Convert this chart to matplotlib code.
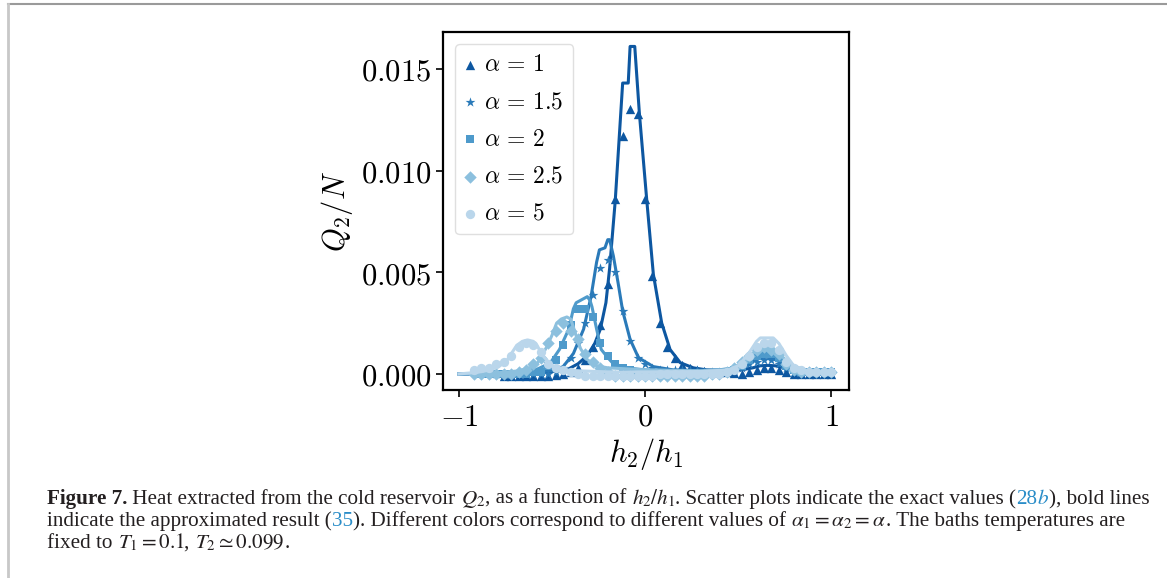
import numpy as np
import matplotlib.pyplot as plt
import matplotlib.transforms as mtransforms
from matplotlib.lines import Line2D

plt.rcParams['mathtext.fontset'] = 'cm'
plt.rcParams['font.family'] = 'DejaVu Serif'

labels = [r'$\alpha \,=\, 1$', r'$\alpha \,=\, 1.5$', r'$\alpha \,=\, 2$', r'$\alpha \,=\, 2.5$',
          r'$\alpha \,=\, 5$']
colors = ['#0d57a1', '#2a7ab9', '#4e9acb', '#8cc0de', '#bad6eb']
markers = ['^', '*', 's', 'D', 'o']

# approximated result (bold lines)
line_x = [
    [-1.0, -0.6, -0.42, -0.36, -0.31, -0.27, -0.24, -0.21, -0.19, -0.16, -0.14, -0.12, -0.09, -0.08,
     -0.055, -0.03, 0.01, 0.045, 0.09, 0.135, 0.19, 0.26, 0.33, 0.45, 0.52, 0.58, 0.62, 0.66, 0.7,
     0.75, 0.82, 0.9, 1.0],
    [-1.0, -0.7, -0.5, -0.44, -0.385, -0.33, -0.29, -0.26, -0.245, -0.215, -0.2, -0.19, -0.17, -0.145,
     -0.12, -0.08, -0.035, 0.045, 0.15, 0.3, 0.45, 0.52, 0.58, 0.62, 0.65, 0.68, 0.72, 0.78, 0.85, 1.0],
    [-1.0, -0.75, -0.6, -0.51, -0.46, -0.41, -0.385, -0.37, -0.35, -0.33, -0.31, -0.295, -0.285, -0.26,
     -0.235, -0.2, -0.17, -0.1, 0.0, 0.2, 0.4, 0.48, 0.55, 0.6, 0.64, 0.68, 0.72, 0.78, 0.85, 1.0],
    [-1.0, -0.8, -0.68, -0.62, -0.58, -0.53, -0.5, -0.475, -0.45, -0.42, -0.4, -0.385, -0.35, -0.31,
     -0.26, -0.2, 0.0, 0.3, 0.45, 0.52, 0.58, 0.62, 0.65, 0.68, 0.72, 0.78, 0.85, 1.0],
    [-1.0, -0.9, -0.83, -0.78, -0.74, -0.69, -0.66, -0.63, -0.6, -0.58, -0.55, -0.52, -0.49, -0.44,
     -0.35, -0.2, 0.0, 0.3, 0.45, 0.5, 0.55, 0.6, 0.62, 0.69, 0.72, 0.76, 0.8, 0.85, 0.9, 1.0],
]
line_y = [
    [0.0, 0.00002, 0.0002, 0.0005, 0.0009, 0.0015, 0.0022, 0.0035, 0.0052, 0.0085, 0.0114, 0.0143,
     0.0143, 0.0161, 0.0161, 0.0128, 0.0085, 0.0049, 0.0025, 0.0012, 0.00055, 0.0003, 0.0002, 0.00015,
     0.0002, 0.0003, 0.0004, 0.00042, 0.0004, 0.0003, 0.00015, 0.00008, 0.00005],
    [0.0, 0.00003, 0.00015, 0.00036, 0.001, 0.0022, 0.0038, 0.0055, 0.0061, 0.0062, 0.0066, 0.0066,
     0.0058, 0.0045, 0.0031, 0.0017, 0.0008, 0.00036, 0.0002, 0.00015, 0.0002, 0.0003, 0.0006, 0.0008,
     0.00082, 0.0008, 0.0006, 0.0003, 0.00015, 0.0001],
    [0.0, 0.00005, 0.00015, 0.00053, 0.0012, 0.0022, 0.0032, 0.0035, 0.0036, 0.0037, 0.0038, 0.0036,
     0.0033, 0.0022, 0.0012, 0.0008, 0.0005, 0.0003, 0.0002, 0.00015, 0.0002, 0.0003, 0.0007, 0.001,
     0.0011, 0.0011, 0.0008, 0.0004, 0.0002, 0.0001],
    [0.0, 0.00005, 0.00015, 0.0003, 0.0005, 0.0013, 0.0019, 0.0025, 0.0027, 0.0028, 0.0027, 0.0023,
     0.0013, 0.0007, 0.0004, 0.0003, 0.0002, 0.00015, 0.0002, 0.0005, 0.001, 0.0013, 0.00135, 0.0013,
     0.001, 0.0005, 0.0002, 0.0001],
    [0.0, 0.00008, 0.0002, 0.0004, 0.0007, 0.0014, 0.0016, 0.00167, 0.0016, 0.0014, 0.0009, 0.0006,
     0.00036, 0.0002, 0.00015, 0.0001, 0.0001, 0.00012, 0.0002, 0.0004, 0.0009, 0.0016, 0.00177,
     0.00177, 0.0015, 0.0009, 0.0004, 0.0002, 0.0001, 0.0001],
]

# exact values (scatter)
grid_x = [-0.92, -0.88, -0.84, -0.80, -0.76, -0.72, -0.68, -0.64, -0.60, -0.56, -0.52, -0.48,
          -0.44, -0.40, -0.36, -0.32, -0.28, -0.24, -0.20, -0.16, -0.12, -0.08, -0.04, 0.00,
          0.04, 0.08, 0.12, 0.16, 0.20, 0.24, 0.28, 0.32, 0.36, 0.40, 0.44, 0.48, 0.52, 0.56,
          0.60, 0.64, 0.68, 0.72, 0.76, 0.80, 0.84, 0.88, 0.92, 0.96, 1.00]
start = [4, 3, 1, 0, 0]
sc_y = [
    [-0.0001, -0.0001, -0.0001, -0.0001, -0.0001,
     -0.0001, -0.0001, -0.00005, 0.0, 0.0001,
     0.0003, 0.0007, 0.0013, 0.0024, 0.0044,
     0.0086, 0.0117, 0.0130, 0.0128, 0.0086,
     0.0048, 0.0025, 0.00134, 0.00077, 0.00044,
     0.00028, 0.0002, 0.00015, 0.0001, 0.0001,
     0.0001, 0.00005, 0.0, 0.0001, 0.0002,
     0.0003, 0.0003, 0.0002, 0.0001, 0.0,
     0.0, 0.0, 0.0, 0.0, 0.0],
    [0.0, 0.0, 0.0, 0.0, 0.0,
     0.0, 0.0, 0.0, 0.0001, 0.0003,
     0.0008, 0.0015, 0.0025, 0.0039, 0.0052,
     0.0056, 0.0050, 0.0031, 0.0016, 0.0008,
     0.0005, 0.0003, 0.0002, 0.0002, 0.0002,
     0.0002, 0.0002, 0.0002, 0.0001, 0.0001,
     0.0001, 0.0001, 0.0002, 0.0003, 0.0005,
     0.0006, 0.0007, 0.0007, 0.0005, 0.0003,
     0.0001, 0.0001, 0.0001, 0.0001, 0.0001,
     0.0001],
    [0.0, 0.0, 0.0, 0.0, 0.0,
     0.0, 0.0, 0.0001, 0.0001, 0.0004,
     0.0007, 0.0014, 0.0024, 0.0032, 0.0032,
     0.0028, 0.0015, 0.0009, 0.0005, 0.0003,
     0.0002, 0.0001, 0.0, 0.0, 0.0,
     0.0, 0.0, 0.0, 0.0, 0.0,
     0.0, 0.0, 0.0, 0.0001, 0.0002,
     0.0004, 0.0007, 0.0009, 0.0010, 0.0010,
     0.0008, 0.0004, 0.0002, 0.0001, 0.0001,
     0.0001, 0.0001, 0.0001],
    [0.0, 0.0, 0.0, 0.0, 0.0,
     0.0, 0.0001, 0.0002, 0.0005, 0.0008,
     0.0015, 0.0021, 0.0025, 0.0021, 0.0017,
     0.0010, 0.0006, 0.0003, 0.0001, -0.0001,
     -0.0001, -0.0001, -0.0001, -0.0001, -0.0001,
     -0.0001, -0.0001, -0.0001, -0.0001, -0.0001,
     -0.0001, -0.0001, 0.0, 0.0, 0.0001,
     0.0003, 0.0006, 0.0009, 0.0012, 0.0013,
     0.0012, 0.0010, 0.0005, 0.0002, 0.0001,
     0.0001, 0.0001, 0.0001, 0.0001],
    [0.0002, 0.0003, 0.0003, 0.0005, 0.0006,
     0.0009, 0.0013, 0.0015, 0.0014, 0.0011,
     0.0005, 0.0003, 0.0002, 0.0001, 0.0,
     -0.0001, -0.0001, -0.0001, -0.0001, -0.0001,
     -0.0001, -0.0001, -0.0001, -0.0001, -0.0001,
     0.0, 0.0, 0.0, 0.0, 0.0,
     0.0, 0.0, 0.0, 0.0, 0.0001,
     0.0002, 0.0005, 0.0009, 0.0013, 0.0015,
     0.0015, 0.0012, 0.0006, 0.0003, 0.0002,
     0.0001, 0.0001, 0.0001, 0.0001],
]
sizes = [45, 55, 40, 40, 45]

fig = plt.figure(figsize=(11.67, 5.78), dpi=100)
ax = fig.add_axes([443 / 1167, 1 - 390 / 578, 406 / 1167, 358 / 578])

for i in range(5):
    ax.plot(line_x[i], line_y[i], color=colors[i], lw=2.2, zorder=2 + i)
    ax.scatter(grid_x[start[i]:], sc_y[i], marker=markers[i], s=sizes[i], color=colors[i],
               linewidths=0, label=labels[i], zorder=2 + i)

ax.set_xlim(-1.086, 1.097)
ax.set_ylim(-0.00079, 0.01681)
ax.set_xticks([-1, 0, 1])
ax.set_xticklabels([r'$-1$', r'$0$', r'$1$'])
ax.set_yticks([0, 0.005, 0.010, 0.015])
ax.set_yticklabels([r'$0.000$', r'$0.005$', r'$0.010$', r'$0.015$'])
ax.tick_params(labelsize=22, length=5, width=1.2)
for s in ax.spines.values():
    s.set_linewidth(1.6)
ax.set_xlabel(r'$h_2/h_1$', fontsize=22, labelpad=2)
ax.set_ylabel(r'$Q_2/N$', fontsize=22, labelpad=4)

ax.legend(loc='upper left', fontsize=17, scatterpoints=1, handlelength=0.5,
          handletextpad=0.35, labelspacing=0.6, borderpad=0.4, edgecolor='#d8d8d8')

# page frame
fig.add_artist(Line2D([8 / 1167, 1], [1 - 4 / 578, 1 - 4 / 578], color='#9a9a9a', lw=1.5))
fig.add_artist(Line2D([8 / 1167, 8 / 1167], [0, 1 - 4 / 578], color='#c8c8c8', lw=2))

# caption
link = '#2a8dc8'
cap_font = 'Liberation Serif'
cap_size = 15.2
renderer = fig.canvas.get_renderer()


def put_line(x0, ybase, segs):
    x = x0
    for txt, col, wt in segs:
        t = fig.text(x, ybase, txt, transform=mtransforms.IdentityTransform(), color=col,
                     fontweight=wt, family=cap_font, fontsize=cap_size, va='baseline',
                     math_fontfamily='stix')
        x += t.get_window_extent(renderer).width


k = '#231f20'
put_line(47, 578 - 504, [
    ('Figure 7.', k, 'bold'),
    (' Heat extracted from the cold reservoir ', k, 'normal'),
    (r'$Q_2$', k, 'normal'),
    (', as a function of ', k, 'normal'),
    (r'$h_2/h_1$', k, 'normal'),
    ('. Scatter plots indicate the exact values (', k, 'normal'),
    ('28', link, 'normal'),
    (r'$b$', link, 'normal'),
    ('), bold lines', k, 'normal'),
])
put_line(47, 578 - 526, [
    ('indicate the approximated result (', k, 'normal'),
    ('35', link, 'normal'),
    ('). Different colors correspond to different values of ', k, 'normal'),
    (r'$\alpha_1 = \alpha_2 = \alpha$', k, 'normal'),
    ('. The baths temperatures are', k, 'normal'),
])
put_line(47, 578 - 548, [
    ('fixed to ', k, 'normal'),
    (r'$T_1 = 0.1$', k, 'normal'),
    (', ', k, 'normal'),
    (r'$T_2 \simeq 0.099$', k, 'normal'),
    ('.', k, 'normal'),
])

fig.savefig('out.png', dpi=100)
